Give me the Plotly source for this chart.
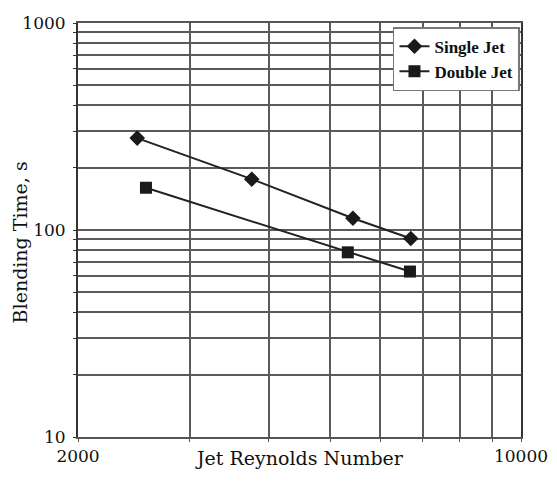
import plotly.graph_objects as go

# Data
single_re = [2480, 3760, 5430, 6700]
single_time = [278, 176, 114, 91]
double_re = [2560, 5330, 6680]
double_time = [160, 78, 63]

x_grid = [2000, 3000, 4000, 5000, 6000, 7000, 8000, 9000, 10000]
x_labels = ["2000", "", "", "", "", "", "", "", "10000"]
y_grid = [10, 20, 30, 40, 50, 60, 70, 80, 90, 100, 200, 300, 400, 500, 600, 700, 800, 900, 1000]
y_labels = ["10"] + [""] * 8 + ["100"] + [""] * 8 + ["1000"]

fig = go.Figure()
fig.add_trace(go.Scatter(
    x=single_re, y=single_time, name="Single Jet", mode="lines+markers",
    line=dict(color="#222222", width=2),
    marker=dict(symbol="diamond", size=12, color="#1a1a1a"),
))
fig.add_trace(go.Scatter(
    x=double_re, y=double_time, name="Double Jet", mode="lines+markers",
    line=dict(color="#222222", width=2),
    marker=dict(symbol="square", size=12, color="#1a1a1a"),
))

fig.update_layout(
    width=557, height=483,
    margin=dict(l=78, r=36, t=23, b=46),
    paper_bgcolor="white", plot_bgcolor="white",
    font=dict(family="DejaVu Serif", color="#111111"),
    showlegend=True,
    legend=dict(
        x=0.711, y=0.99, xanchor="left", yanchor="top",
        bgcolor="white", bordercolor="#777777", borderwidth=1.5,
        font=dict(family="Liberation Serif", size=17, color="#111111", weight="bold"),
        itemwidth=30, tracegroupgap=0,
    ),
    xaxis=dict(
        type="log", range=[3.30103, 4.0], automargin=False,
        tickmode="array", tickvals=x_grid, ticktext=x_labels,
        showgrid=True, gridcolor="#5a5a5a", gridwidth=1.5,
        showline=True, linecolor="#555555", linewidth=1.5, mirror=True,
        ticks="outside", ticklen=3, tickcolor="#555555",
        tickfont=dict(family="DejaVu Serif", size=17, color="#111111"),
        ticklabelstandoff=0,
        zeroline=False,
    ),
    yaxis=dict(
        type="log", range=[1, 3], automargin=False,
        tickmode="array", tickvals=y_grid, ticktext=y_labels,
        showgrid=True, gridcolor="#5a5a5a", gridwidth=1.5,
        showline=True, linecolor="#333333", linewidth=2, mirror=True,
        ticks="outside", ticklen=3, tickcolor="#333333",
        tickfont=dict(family="DejaVu Serif", size=17, color="#111111"),
        ticklabelstandoff=4,
        zeroline=False,
    ),
    annotations=[
        dict(
            text="Jet Reynolds Number", xref="paper", yref="paper",
            x=0.5, y=-0.051, xanchor="center", yanchor="middle", showarrow=False,
            font=dict(family="DejaVu Serif", size=19, color="#111111"),
        ),
        dict(
            text="Blending Time, s", xref="paper", yref="paper", textangle=-90,
            x=-0.131, y=0.47, xanchor="center", yanchor="middle", showarrow=False,
            font=dict(family="DejaVu Serif", size=19, color="#111111"),
        ),
    ],
)

fig.write_html("out.html")
